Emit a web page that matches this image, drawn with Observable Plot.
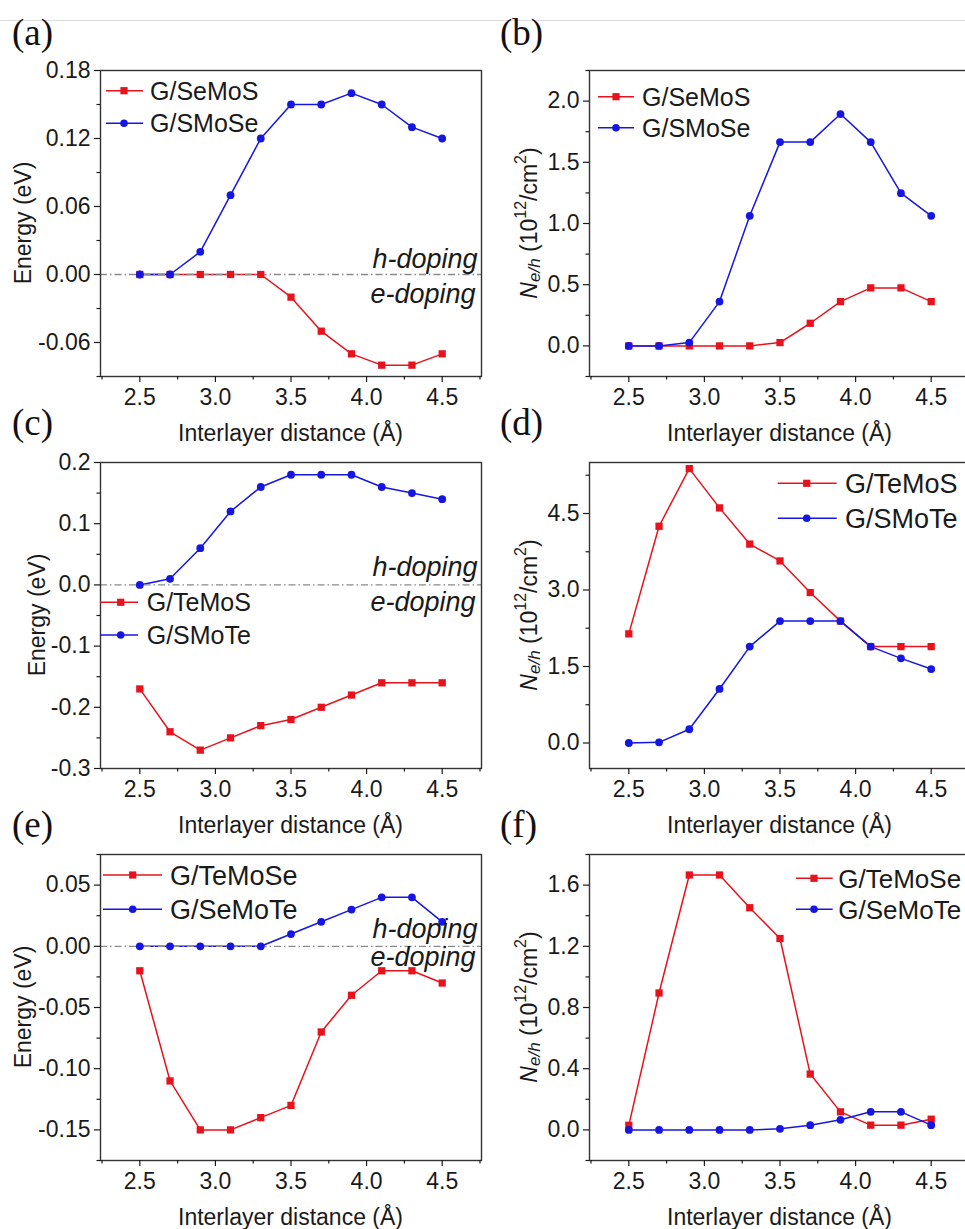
<!DOCTYPE html>
<html><head><meta charset="utf-8">
<script src="https://cdn.jsdelivr.net/npm/d3@7"></script>
<script src="https://cdn.jsdelivr.net/npm/@observablehq/plot@0.6"></script>
<style>
html,body{margin:0;padding:0;background:#fff;overflow:hidden;}
#fig{position:relative;width:965px;height:1229px;overflow:hidden;font-family:"Liberation Sans",Arial,sans-serif;background:#fff;}
.tag{position:absolute;font-family:"Liberation Serif","Times New Roman",serif;font-size:37px;line-height:1;color:#111;}
.panel{position:absolute;}
.panel svg{max-width:none !important;}
.topline{position:absolute;left:0;top:20px;width:965px;height:1px;background:#dcdcdc;}
</style></head>
<body><div id="fig"><div class="topline"></div></div>
<script>
// ---------- data ----------
const distance = [2.5, 2.7, 2.9, 3.1, 3.3, 3.5, 3.7, 3.9, 4.1, 4.3, 4.5];

const energySeMoS  = [0, 0, 0, 0, 0, -0.02, -0.05, -0.07, -0.08, -0.08, -0.07];
const energySMoSe  = [0, 0, 0.02, 0.07, 0.12, 0.15, 0.15, 0.16, 0.15, 0.13, 0.12];
const carrierSeMoS = [0, 0, 0, 0, 0, 0.027, 0.185, 0.362, 0.474, 0.474, 0.362];
const carrierSMoSe = [0, 0, 0.027, 0.362, 1.063, 1.665, 1.665, 1.894, 1.665, 1.248, 1.063];

const energyTeMoS  = [-0.17, -0.24, -0.27, -0.25, -0.23, -0.22, -0.20, -0.18, -0.16, -0.16, -0.16];
const energySMoTe  = [0, 0.01, 0.06, 0.12, 0.16, 0.18, 0.18, 0.18, 0.16, 0.15, 0.14];
const carrierTeMoS = [2.14, 4.25, 5.38, 4.61, 3.90, 3.57, 2.95, 2.39, 1.89, 1.89, 1.89];
const carrierSMoTe = [0, 0.013, 0.27, 1.06, 1.89, 2.39, 2.39, 2.39, 1.89, 1.66, 1.45];

const energyTeMoSe  = [-0.02, -0.11, -0.15, -0.15, -0.14, -0.13, -0.07, -0.04, -0.02, -0.02, -0.03];
const energySeMoTe  = [0, 0, 0, 0, 0, 0.01, 0.02, 0.03, 0.04, 0.04, 0.02];
const carrierTeMoSe = [0.03, 0.895, 1.666, 1.666, 1.452, 1.251, 0.365, 0.118, 0.031, 0.031, 0.07];
const carrierSeMoTe = [0, 0, 0, 0, 0, 0.007, 0.031, 0.066, 0.118, 0.118, 0.031];

const xTicks = [2.5, 3.0, 3.5, 4.0, 4.5];
const xMinorTicks = [2.25, 2.75, 3.25, 3.75, 4.25, 4.75];

const yTicksA = [-0.06, 0, 0.06, 0.12, 0.18],  yMinorA = [-0.09, -0.03, 0.03, 0.09, 0.15];
const yTicksB = [0, 0.5, 1.0, 1.5, 2.0],        yMinorB = [-0.25, 0.25, 0.75, 1.25, 1.75, 2.25];
const yTicksC = [-0.3, -0.2, -0.1, 0, 0.1, 0.2], yMinorC = [-0.25, -0.15, -0.05, 0.05, 0.15];
const yTicksD = [0, 1.5, 3.0, 4.5],             yMinorD = [0.75, 2.25, 3.75, 5.25];
const yTicksE = [-0.15, -0.10, -0.05, 0, 0.05], yMinorE = [-0.175, -0.125, -0.075, -0.025, 0.025, 0.075];
const yTicksF = [0, 0.4, 0.8, 1.2, 1.6],        yMinorF = [-0.2, 0.2, 0.6, 1.0, 1.4, 1.8];

const panelTags = ["(a)", "(b)", "(c)", "(d)", "(e)", "(f)"];
const xTitle = "Interlayer distance (Å)";
const energyTitle = "Energy (eV)";

const RED = "#e8121c", BLUE = "#1616e2";

// ---------- layout ----------
const frameTops = [70, 462, 854];
const frameH = 306;
const frameLefts = [100, 589];
const frameRights = [481, 970];
const svgLefts = [0, 480];
const tagPos = [[12, 14], [500, 14], [12, 404], [500, 404], [12, 806], [500, 806]];

const panels = [
  {kind: "energy", series: [["G/SeMoS", energySeMoS, RED, "square"], ["G/SMoSe", energySMoSe, BLUE, "circle"]],
   yDomain: [-0.09, 0.18], yTicks: yTicksA, yMinor: yMinorA, digits: 2, ylabX: -77,
   legend: {x0: 6, x1: 43, xm: 24, rows: [20.7, 53.3], tx: 50, fs: 25}, doping: [-7, 28]},
  {kind: "carrier", series: [["G/SeMoS", carrierSeMoS, RED, "square"], ["G/SMoSe", carrierSMoSe, BLUE, "circle"]],
   yDomain: [-0.25, 2.25], yTicks: yTicksB, yMinor: yMinorB, digits: 1, ylabX: -60,
   legend: {x0: 9, x1: 45, xm: 27, rows: [26.7, 57.7], tx: 53, fs: 25}},
  {kind: "energy", series: [["G/TeMoS", energyTeMoS, RED, "square"], ["G/SMoTe", energySMoTe, BLUE, "circle"]],
   yDomain: [-0.3, 0.2], yTicks: yTicksC, yMinor: yMinorC, digits: 1, ylabX: -63,
   legend: {x0: 0, x1: 38, xm: 20.7, rows: [140.3, 173], tx: 46.7, fs: 25}, doping: [-9, 26]},
  {kind: "carrier", series: [["G/TeMoS", carrierTeMoS, RED, "square"], ["G/SMoTe", carrierSMoTe, BLUE, "circle"]],
   yDomain: [-0.5, 5.5], yTicks: yTicksD, yMinor: yMinorD, digits: 1, ylabX: -60,
   legend: {x0: 188.7, x1: 247.7, xm: 217.7, rows: [21.3, 56.3], tx: 256, fs: 27}},
  {kind: "energy", series: [["G/TeMoSe", energyTeMoSe, RED, "square"], ["G/SeMoTe", energySeMoTe, BLUE, "circle"]],
   yDomain: [-0.175, 0.075], yTicks: yTicksE, yMinor: yMinorE, digits: 2, ylabX: -77,
   legend: {x0: 3, x1: 62, xm: 32.7, rows: [21, 55.3], tx: 70, fs: 27}, doping: [-8, 20]},
  {kind: "carrier", series: [["G/TeMoSe", carrierTeMoSe, RED, "square"], ["G/SeMoTe", carrierSeMoTe, BLUE, "circle"]],
   yDomain: [-0.2, 1.8], yTicks: yTicksF, yMinor: yMinorF, digits: 1, ylabX: -60,
   legend: {x0: 207, x1: 243.7, xm: 225, rows: [24.3, 55.3], tx: 249.3, fs: 26}}
];

const fig = document.getElementById("fig");
const FONT = "'Liberation Sans', Arial, sans-serif";
const TXT = "#1a1a1a";

panels.forEach((p, i) => {
  const col = i % 2, row = Math.floor(i / 2);
  const mt = 15, mb = 80, mr = 2;
  const left = svgLefts[col];
  const ml = frameLefts[col] - left;
  const width = frameRights[col] - left + mr;
  const height = mt + frameH + mb;
  const plotW = frameRights[col] - frameLefts[col];

  const rows = [];
  p.series.forEach(([name, vals]) => {
    distance.forEach((d, k) => rows.push({distance: d, value: vals[k], series: name}));
  });
  const bySeries = name => rows.filter(r => r.series === name);

  const marks = [];
  p.series.forEach(([name, , color]) => {
    marks.push(Plot.line(bySeries(name), {x: "distance", y: "value", stroke: color, strokeWidth: 1.5}));
  });
  if (p.kind === "energy") {
    marks.push(Plot.ruleY([0], {stroke: "#8a8a8a", strokeWidth: 1.3, strokeDasharray: "7,3,1.5,3"}));
  }
  p.series.forEach(([name, , color, sym]) => {
    marks.push(Plot.dot(bySeries(name), {x: "distance", y: "value", symbol: sym, r: sym === "square" ? 4.1 : 3.9, fill: color, stroke: "none"}));
  });
  if (p.doping) {
    marks.push(Plot.text([0], {y: d => d, text: () => "h-doping", frameAnchor: "right", textAnchor: "end", lineAnchor: "bottom", dx: -4, dy: p.doping[0], fontSize: 27, fontStyle: "italic", fill: TXT}));
    marks.push(Plot.text([0], {y: d => d, text: () => "e-doping", frameAnchor: "right", textAnchor: "end", lineAnchor: "bottom", dx: -6, dy: p.doping[1], fontSize: 27, fontStyle: "italic", fill: TXT}));
  }
  marks.push(Plot.frame({stroke: "#333", strokeWidth: 1.4}));
  marks.push(Plot.axisX(xTicks, {anchor: "bottom", tickSize: 6, tickPadding: 6, fontSize: 23, tickFormat: d => d.toFixed(1), label: null, color: TXT, strokeWidth: 1.2}));
  marks.push(Plot.axisX(xMinorTicks, {anchor: "bottom", tickSize: 3.5, tickFormat: () => "", label: null, color: TXT, strokeWidth: 1.2}));
  marks.push(Plot.axisY(p.yTicks, {anchor: "left", tickSize: 6, tickPadding: 4, fontSize: 23, tickFormat: d => d.toFixed(p.digits), label: null, color: TXT, strokeWidth: 1.2}));
  marks.push(Plot.axisY(p.yMinor, {anchor: "left", tickSize: 3.5, tickFormat: () => "", label: null, color: TXT, strokeWidth: 1.2}));

  const chart = Plot.plot({
    width, height, marginLeft: ml, marginRight: mr, marginTop: mt, marginBottom: mb,
    style: {background: "transparent", overflow: "visible", fontFamily: FONT, color: TXT, maxWidth: "none"},
    x: {domain: [2.24, 4.76], axis: null},
    y: {domain: p.yDomain, axis: null},
    marks
  });
  chart.style.maxWidth = "none";
  chart.setAttribute("width", width);
  chart.setAttribute("height", height);

  const svg = d3.select(chart);
  svg.append("text")
    .attr("x", ml + plotW / 2).attr("y", mt + frameH + 65)
    .attr("text-anchor", "middle").attr("font-size", 23).attr("fill", TXT).attr("font-family", FONT)
    .text(xTitle);
  const yt = svg.append("text")
    .attr("transform", `translate(${ml + p.ylabX},${mt + frameH / 2}) rotate(-90)`)
    .attr("text-anchor", "middle").attr("dominant-baseline", "central")
    .attr("font-size", 23).attr("fill", TXT).attr("font-family", FONT);
  if (p.kind === "energy") {
    yt.text(energyTitle);
  } else {
    yt.append("tspan").attr("font-style", "italic").text("N");
    yt.append("tspan").attr("font-style", "italic").attr("font-size", 17).attr("dy", 5).text("e/h");
    yt.append("tspan").attr("dy", -5).text(" (10");
    yt.append("tspan").attr("font-size", 16).attr("dy", -9).text("12");
    yt.append("tspan").attr("dy", 9).text("/cm");
    yt.append("tspan").attr("font-size", 16).attr("dy", -9).text("2");
    yt.append("tspan").attr("dy", 9).text(")");
  }
  const L = p.legend;
  const lg = svg.append("g");
  p.series.forEach(([name, , color, sym], k) => {
    const y = mt + L.rows[k];
    lg.append("line").attr("x1", ml + L.x0).attr("x2", ml + L.x1).attr("y1", y).attr("y2", y)
      .attr("stroke", color).attr("stroke-width", 1.5);
    if (sym === "square") {
      lg.append("rect").attr("x", ml + L.xm - 3.6).attr("y", y - 3.6).attr("width", 7.2).attr("height", 7.2).attr("fill", color);
    } else {
      lg.append("circle").attr("cx", ml + L.xm).attr("cy", y).attr("r", 3.8).attr("fill", color);
    }
    lg.append("text").attr("x", ml + L.tx).attr("y", y + 0.36 * L.fs).attr("text-anchor", "start")
      .attr("font-size", L.fs).attr("fill", TXT).attr("font-family", FONT).text(name);
  });

  const wrap = document.createElement("div");
  wrap.className = "panel";
  wrap.style.left = left + "px";
  wrap.style.top = (frameTops[row] - mt) + "px";
  wrap.style.width = width + "px";
  wrap.style.height = height + "px";
  wrap.appendChild(chart);
  fig.appendChild(wrap);

  const tag = document.createElement("div");
  tag.className = "tag";
  tag.style.left = tagPos[i][0] + "px";
  tag.style.top = tagPos[i][1] + "px";
  tag.textContent = panelTags[i];
  fig.appendChild(tag);
});
</script>
</body></html>
